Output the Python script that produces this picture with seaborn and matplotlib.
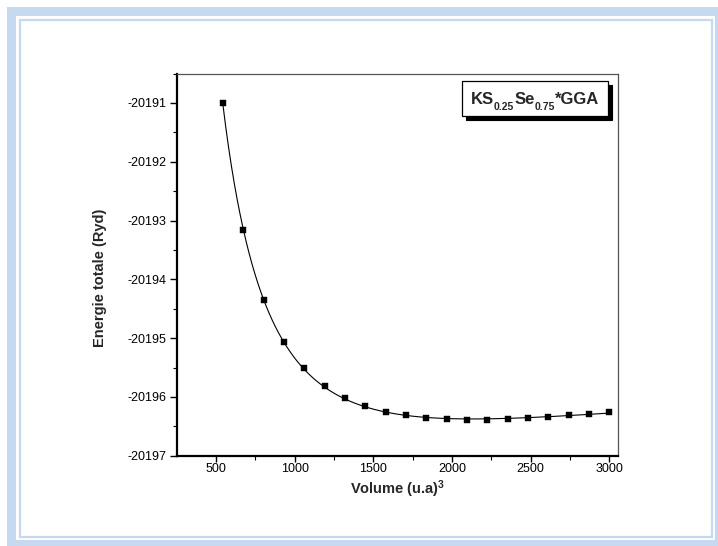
import numpy as np
import pandas as pd
import matplotlib
matplotlib.use("Agg")
import matplotlib.pyplot as plt
import seaborn as sns
from matplotlib.patches import Rectangle
from matplotlib.ticker import AutoMinorLocator

# ---- data ----
volume = [543, 672, 802, 931, 1060, 1190, 1319, 1448, 1578, 1707,
          1836, 1966, 2095, 2224, 2354, 2483, 2612, 2742, 2871, 3000]
energy = [-20191.00, -20193.156, -20194.345, -20195.065, -20195.516,
          -20195.822, -20196.020, -20196.161, -20196.258, -20196.314,
          -20196.355, -20196.382, -20196.389, -20196.389, -20196.377,
          -20196.355, -20196.338, -20196.314, -20196.287, -20196.253]
legend_parts = [("KS", False), ("0.25", True), ("Se", False), ("0.75", True), ("*GGA", False)]
x_label = r"Volume (u.a)$^{3}$"
y_label = "Energie totale (Ryd)"
x_ticks = [500, 1000, 1500, 2000, 2500, 3000]
y_ticks = [-20197, -20196, -20195, -20194, -20193, -20192, -20191]

df = pd.DataFrame({"V": volume, "E": energy})

# Birch-Murnaghan style fit (cubic in V^-2/3) for the smooth curve
V = np.asarray(volume, float)
E = np.asarray(energy, float)
E0 = E.mean()
coef = np.polyfit(V ** (-2.0 / 3.0), E - E0, 3)
Vf = np.linspace(V.min(), V.max(), 400)
Ef = np.polyval(coef, Vf ** (-2.0 / 3.0)) + E0
fit = pd.DataFrame({"V": Vf, "E": Ef})

sns.set_theme(style="white")
plt.rcParams["font.family"] = ["Liberation Sans", "DejaVu Sans"]
plt.rcParams["mathtext.fontset"] = "custom"
plt.rcParams["mathtext.rm"] = "Liberation Sans:bold"
plt.rcParams["mathtext.it"] = "Liberation Sans:bold"
plt.rcParams["mathtext.bf"] = "Liberation Sans:bold"

W, H = 718, 546
fig = plt.figure(figsize=(W / 100, H / 100), dpi=100)
fig.patch.set_facecolor("white")

def fx(px):
    return px / W

def fy(py):
    return 1 - py / H

blue = "#c6d9f0"
# outer decorative frame
fig.add_artist(Rectangle((fx(7), fy(546)), fx(711), 539 / H, transform=fig.transFigure,
                         facecolor=blue, edgecolor="none", zorder=0))
fig.add_artist(Rectangle((fx(16), fy(540)), fx(699), 524 / H, transform=fig.transFigure,
                         facecolor="white", edgecolor="none", zorder=0))
fig.add_artist(Rectangle((fx(20), fy(537)), fx(692), 517 / H, transform=fig.transFigure,
                         facecolor="white", edgecolor=blue, linewidth=1.6, zorder=0))

ax_l, ax_r, ax_t, ax_b = 177.3, 617.7, 73.5, 455.7
ax = fig.add_axes([fx(ax_l), fy(ax_b), fx(ax_r - ax_l), (ax_b - ax_t) / H])
ax.set_facecolor("white")

sns.lineplot(data=fit, x="V", y="E", ax=ax, color="black", linewidth=0.8, zorder=2)
sns.scatterplot(data=df, x="V", y="E", ax=ax, marker="s", color="black",
                s=24, edgecolor="black", linewidth=0.3, zorder=3)

ax.set_xlim(254, 3053)
ax.set_ylim(-20197, -20190.5)
ax.set_xticks(x_ticks)
ax.set_yticks(y_ticks)
ax.set_yticklabels([str(t) for t in y_ticks])
ax.xaxis.set_minor_locator(AutoMinorLocator(2))
ax.yaxis.set_minor_locator(AutoMinorLocator(2))
ax.tick_params(axis="both", which="major", direction="out", length=5, width=1.0,
               colors="black", labelsize=9, pad=3,
               bottom=True, left=True, top=False, right=False)
ax.tick_params(axis="x", which="major", length=4, pad=1.5)
ax.tick_params(axis="both", which="minor", direction="out", length=3, width=0.8,
               colors="black", bottom=True, left=True, top=False, right=False)

for side in ["left", "bottom"]:
    ax.spines[side].set_color("black")
    ax.spines[side].set_linewidth(1.6)
for side in ["top", "right"]:
    ax.spines[side].set_color("#555555")
    ax.spines[side].set_linewidth(0.9)

ax.set_xlabel(x_label, fontsize=10.5, fontweight="bold", labelpad=2)
ax.set_ylabel(y_label, fontsize=10.5, fontweight="bold")
ax.yaxis.set_label_coords(-0.16, 0.465)

# legend-like box with shadow
bx0, bx1, by0, by1 = 462, 608, 81, 116
sh = 3.5
fig.add_artist(Rectangle((fx(bx0 + sh), fy(by1 + sh)), fx(bx1 - bx0), (by1 - by0) / H,
                         transform=fig.transFigure, facecolor="black", edgecolor="black",
                         linewidth=0.8, zorder=5))
fig.add_artist(Rectangle((fx(bx0), fy(by1)), fx(bx1 - bx0), (by1 - by0) / H,
                         transform=fig.transFigure, facecolor="white", edgecolor="black",
                         linewidth=0.9, zorder=6))

# compose legend text with lowered subscripts
renderer = fig.canvas.get_renderer()
main_size, sub_size = 12, 7.5
baseline = 104.5  # pixel y of main baseline
texts = []
xcur = 0.0
for s, is_sub in legend_parts:
    t = fig.text(0, 0, s, fontsize=sub_size if is_sub else main_size, fontweight="bold",
                 ha="left", va="baseline", zorder=7)
    w = t.get_window_extent(renderer).width
    texts.append((t, xcur, is_sub))
    xcur += w
x_start = (bx0 + bx1) / 2 - xcur / 2
for t, xo, is_sub in texts:
    yb = baseline + (5.0 if is_sub else 0.0)
    t.set_position((fx(x_start + xo), fy(yb)))

fig.savefig("out.png", dpi=100, facecolor="white")
